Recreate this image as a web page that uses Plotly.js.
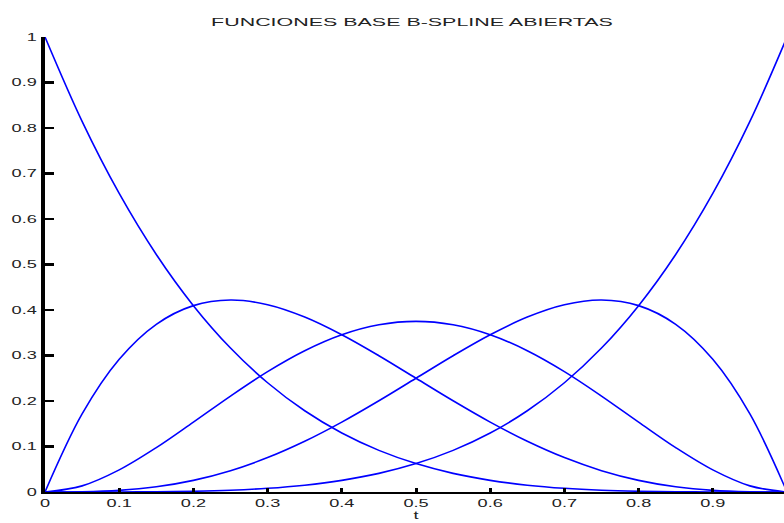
<!DOCTYPE html>
<html>
<head>
<meta charset="utf-8">
<script src="https://cdn.plot.ly/plotly-3.0.1.min.js"></script>
<style>
html, body { margin:0; padding:0; overflow:hidden; background:#fff; }
#chart { width:790px; height:523px; }
</style>
</head>
<body>
<div id="chart"></div>
<script>
// Parameter values t
const tValues = [0, 0.05, 0.1, 0.15, 0.2, 0.25, 0.3, 0.35, 0.4, 0.45, 0.5, 0.55, 0.6, 0.65, 0.7, 0.75, 0.8, 0.85, 0.9, 0.95, 1];
// Basis functions
const N1 = [1, 0.8145, 0.6561, 0.522, 0.4096, 0.3164, 0.2401, 0.1785, 0.1296, 0.0915, 0.0625, 0.041, 0.0256, 0.015, 0.0081, 0.0039, 0.0016, 0.0005, 0.0001, 0.0, 0];
const N2 = [0, 0.1715, 0.2916, 0.3685, 0.4096, 0.4219, 0.4116, 0.3845, 0.3456, 0.2995, 0.25, 0.2005, 0.1536, 0.1115, 0.0756, 0.0469, 0.0256, 0.0115, 0.0036, 0.0005, 0];
const N3 = [0, 0.0135, 0.0486, 0.0975, 0.1536, 0.2109, 0.2646, 0.3105, 0.3456, 0.3675, 0.375, 0.3675, 0.3456, 0.3105, 0.2646, 0.2109, 0.1536, 0.0975, 0.0486, 0.0135, 0];
const N4 = [0, 0.0005, 0.0036, 0.0115, 0.0256, 0.0469, 0.0756, 0.1115, 0.1536, 0.2005, 0.25, 0.2995, 0.3456, 0.3845, 0.4116, 0.4219, 0.4096, 0.3685, 0.2916, 0.1715, 0];
const N5 = [0, 0.0, 0.0001, 0.0005, 0.0016, 0.0039, 0.0081, 0.015, 0.0256, 0.041, 0.0625, 0.0915, 0.1296, 0.1785, 0.2401, 0.3164, 0.4096, 0.522, 0.6561, 0.8145, 1];
const seriesList = [N1, N2, N3, N4, N5];
const xTicks = [0, 0.1, 0.2, 0.3, 0.4, 0.5, 0.6, 0.7, 0.8, 0.9, 1];
const yTicks = [0, 0.1, 0.2, 0.3, 0.4, 0.5, 0.6, 0.7, 0.8, 0.9, 1];
const titleText = 'FUNCIONES BASE B-SPLINE ABIERTAS';
const xLabel = 't';

const traces = seriesList.map(s => ({
  x: tValues, y: s, type: 'scatter', mode: 'lines',
  line: {color: '#0000ff', width: 1.6, shape: 'spline', smoothing: 1.0},
  hoverinfo: 'skip', showlegend: false
}));

const fam = 'Liberation Sans, Arial, sans-serif';
const font = {family: fam, size: 11, color: '#222'};
const layout = {
  width: 790, height: 523,
  margin: {l: 45, r: 3, t: 37, b: 31},
  paper_bgcolor: '#fff', plot_bgcolor: '#fff',
  font: font,
  title: {text: titleText, font: {family: fam, size: 11, color: '#222'}, x: 0.5215, xanchor: 'center', y: 0.958, yanchor: 'middle'},
  xaxis: {
    range: [0, 1], tickvals: xTicks, ticktext: xTicks.map(String),
    ticks: 'inside', ticklen: 4, tickwidth: 3, tickcolor: '#000',
    showline: true, linecolor: '#000', linewidth: 2, showgrid: false, zeroline: false,
    tickfont: font, automargin: false,
    title: {text: xLabel, font: {family: fam, size: 11, color: '#222'}, standoff: 3}
  },
  yaxis: {
    range: [0, 1], tickvals: yTicks, ticktext: yTicks.map(String),
    ticks: 'inside', ticklen: 9, tickwidth: 2.5, tickcolor: '#000',
    showline: true, linecolor: '#000', linewidth: 4, showgrid: false, zeroline: false,
    tickfont: font, automargin: false, ticklabelstandoff: 2
  }
};
Plotly.newPlot('chart', traces, layout, {staticPlot: true, displayModeBar: false}).then(gd => {
  // stretch text horizontally like the reference's wide lettering
  const stretch = (sel, s) => gd.querySelectorAll(sel).forEach(el => {
    const x = parseFloat(el.getAttribute('x')) || 0;
    const t = el.getAttribute('transform') || '';
    el.setAttribute('transform', t + ' translate(' + x + ',0) scale(' + s + ',1) translate(' + (-x) + ',0)');
  });
  stretch('.gtitle', 1.95);
  stretch('.xtick text, .ytick text, .xtitle', 1.65);
});
</script>
</body>
</html>
